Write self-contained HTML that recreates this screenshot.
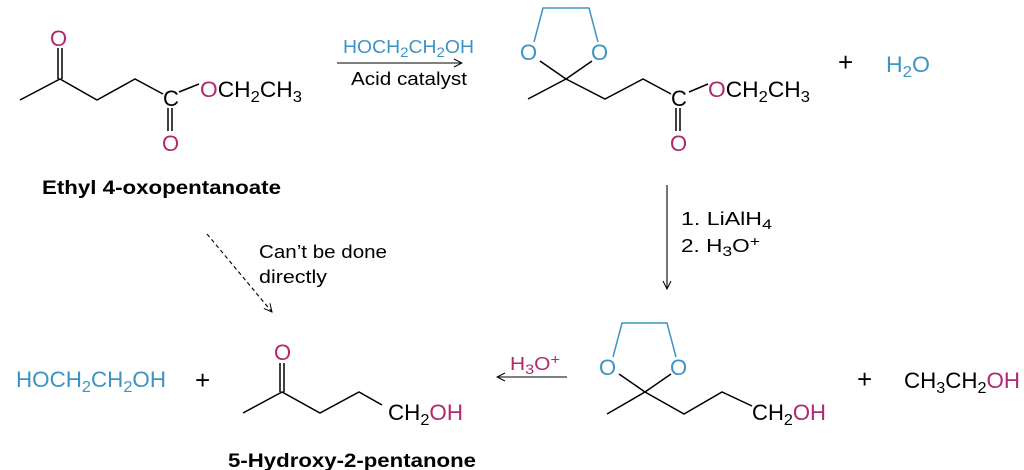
<!DOCTYPE html>
<html><head><meta charset="utf-8"><style>
html,body{margin:0;padding:0;background:#fff;}
svg{display:block;}
text{font-family:"Liberation Sans",sans-serif;}
.f{font-size:22px;}
.s{font-size:18px;}
.b{font-size:19px;font-weight:bold;}
.m{fill:#b0286e;}
.c{fill:#3d94c4;}
</style></head><body>
<svg width="1024" height="470" viewBox="0 0 1024 470" xmlns="http://www.w3.org/2000/svg">
<defs>
<marker id="a" markerWidth="10" markerHeight="10" refX="9" refY="5" orient="auto" markerUnits="userSpaceOnUse">
<path d="M1,1 L9,5 L1,9" fill="none" stroke="#000" stroke-width="1"/>
</marker>
</defs>
<g stroke="#000" stroke-width="1.5" fill="none">
<polyline points="20,100 60,79 97,100 135,79 163,94"/>
<line x1="58" y1="48" x2="58" y2="79"/><line x1="62" y1="48" x2="62" y2="79"/>
<line x1="168" y1="108" x2="168" y2="131"/><line x1="172" y1="108" x2="172" y2="131"/>
<line x1="179" y1="92" x2="199" y2="84"/>
<line x1="528" y1="99" x2="566" y2="79"/>
<line x1="540" y1="61" x2="566" y2="79"/><line x1="592" y1="61" x2="566" y2="79"/>
<polyline points="566,79 605,99 643,79 671,94"/>
<line x1="676" y1="108" x2="676" y2="131"/><line x1="680" y1="108" x2="680" y2="131"/>
<line x1="689" y1="92" x2="708" y2="84"/>
<line x1="607" y1="414" x2="645" y2="392"/>
<line x1="619" y1="374" x2="645" y2="392"/><line x1="671" y1="374" x2="645" y2="392"/>
<polyline points="645,392 684,414 722,392 752,406"/>
<polyline points="243,413 282,392 320,413 359,392 382,405"/>
<line x1="280" y1="363" x2="280" y2="392"/><line x1="284" y1="363" x2="284" y2="392"/>
</g>
<g stroke="#3d94c4" stroke-width="1.5" fill="none">
<polyline points="534,42 543,8 589,8 598,42"/>
<polyline points="613,357 622,323 667,323 676,357"/>
</g>
<g stroke="#000" stroke-width="1.1" fill="none">
<line x1="337" y1="63" x2="462" y2="63" marker-end="url(#a)"/>
<line x1="667" y1="185" x2="667" y2="289" marker-end="url(#a)"/>
<line x1="567" y1="377" x2="497" y2="377" marker-end="url(#a)"/>
<line x1="207" y1="234" x2="272" y2="312" stroke-dasharray="4,3" marker-end="url(#a)"/>
</g>
<text class="f m" x="50" y="46">O</text>
<text class="f" x="163" y="106">C</text>
<text class="f m" x="162" y="151">O</text>
<text class="f" x="200" y="97" textLength="102" lengthAdjust="spacingAndGlyphs"><tspan class="m">O</tspan>CH<tspan font-size="16" dy="5">2</tspan><tspan dy="-5">CH</tspan><tspan font-size="16" dy="5">3</tspan></text>
<text class="b" x="42" y="194" textLength="239" lengthAdjust="spacingAndGlyphs">Ethyl 4-oxopentanoate</text>
<text class="s c" x="343" y="53" textLength="131" lengthAdjust="spacingAndGlyphs">HOCH<tspan font-size="14" dy="4">2</tspan><tspan dy="-4">CH</tspan><tspan font-size="14" dy="4">2</tspan><tspan dy="-4">OH</tspan></text>
<text class="s" x="351" y="85" textLength="116" lengthAdjust="spacingAndGlyphs">Acid catalyst</text>
<text class="f c" x="520" y="60">O</text>
<text class="f c" x="591" y="60">O</text>
<text class="f" x="671" y="106">C</text>
<text class="f m" x="670" y="151">O</text>
<text class="f" x="708" y="97" textLength="102" lengthAdjust="spacingAndGlyphs"><tspan class="m">O</tspan>CH<tspan font-size="16" dy="5">2</tspan><tspan dy="-5">CH</tspan><tspan font-size="16" dy="5">3</tspan></text>
<text x="838" y="71" font-size="26">+</text>
<text class="f c" x="886" y="72" textLength="44" lengthAdjust="spacingAndGlyphs">H<tspan font-size="16" dy="5">2</tspan><tspan dy="-5">O</tspan></text>
<text class="s" x="681" y="225" textLength="91" lengthAdjust="spacingAndGlyphs">1. LiAlH<tspan font-size="14" dy="4">4</tspan></text>
<text class="s" x="681" y="252" textLength="79" lengthAdjust="spacingAndGlyphs">2. H<tspan font-size="14" dy="4">3</tspan><tspan dy="-4">O</tspan><tspan font-size="14" dy="-6">+</tspan></text>
<text class="s" x="259" y="258" textLength="128" lengthAdjust="spacingAndGlyphs">Can’t be done</text>
<text class="s" x="259" y="283" textLength="68" lengthAdjust="spacingAndGlyphs">directly</text>
<text class="f c" x="16" y="387" textLength="150" lengthAdjust="spacingAndGlyphs">HOCH<tspan font-size="16" dy="5">2</tspan><tspan dy="-5">CH</tspan><tspan font-size="16" dy="5">2</tspan><tspan dy="-5">OH</tspan></text>
<text x="195" y="389" font-size="26">+</text>
<text class="f m" x="274" y="360">O</text>
<text class="f" x="388" y="420" textLength="75" lengthAdjust="spacingAndGlyphs">CH<tspan font-size="16" dy="5">2</tspan><tspan class="m" dy="-5">OH</tspan></text>
<text class="b" x="228" y="467" textLength="248" lengthAdjust="spacingAndGlyphs">5-Hydroxy-2-pentanone</text>
<text class="s m" x="510" y="370" textLength="50" lengthAdjust="spacingAndGlyphs">H<tspan font-size="14" dy="4">3</tspan><tspan dy="-4">O</tspan><tspan font-size="14" dy="-6">+</tspan></text>
<text class="f c" x="599" y="375">O</text>
<text class="f c" x="670" y="375">O</text>
<text class="f" x="752" y="420" textLength="74" lengthAdjust="spacingAndGlyphs">CH<tspan font-size="16" dy="5">2</tspan><tspan class="m" dy="-5">OH</tspan></text>
<text x="857" y="388" font-size="26">+</text>
<text class="f" x="904" y="388" textLength="116" lengthAdjust="spacingAndGlyphs">CH<tspan font-size="16" dy="5">3</tspan><tspan dy="-5">CH</tspan><tspan font-size="16" dy="5">2</tspan><tspan class="m" dy="-5">OH</tspan></text>
</svg>
</body></html>
